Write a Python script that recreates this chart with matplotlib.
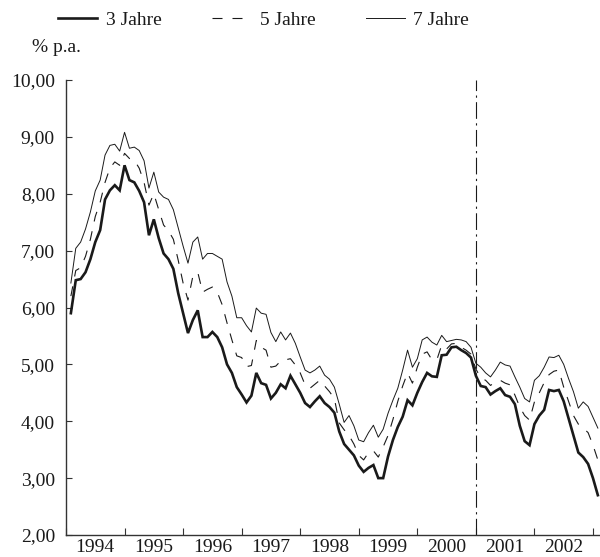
import numpy as np
import matplotlib
matplotlib.use("Agg")
import matplotlib.pyplot as plt
from matplotlib.ticker import FixedLocator, FuncFormatter

# Monthly yields (end of month), Jan 1994 - Jan 2003, % p.a.
start_year = 1994
y3 = [5.90, 6.48, 6.50, 6.62, 6.85, 7.15, 7.36, 7.90, 8.06, 8.15, 8.06, 8.50,
      8.24, 8.20, 8.05, 7.85, 7.27, 7.55, 7.22, 6.95, 6.85, 6.68, 6.25, 5.90,
      5.55, 5.78, 5.95, 5.48, 5.48, 5.57, 5.48, 5.30, 5.00, 4.85, 4.60, 4.47,
      4.33, 4.45, 4.85, 4.67, 4.64, 4.40, 4.50, 4.65, 4.58, 4.80, 4.65, 4.50,
      4.32, 4.25, 4.35, 4.44, 4.32, 4.25, 4.15, 3.82, 3.60, 3.50, 3.40, 3.22,
      3.11, 3.18, 3.23, 3.00, 3.00, 3.38, 3.67, 3.90, 4.08, 4.37, 4.28, 4.50,
      4.69, 4.85, 4.79, 4.78, 5.16, 5.17, 5.30, 5.31, 5.25, 5.20, 5.12, 4.80,
      4.62, 4.60, 4.47, 4.53, 4.58, 4.46, 4.43, 4.30, 3.92, 3.65, 3.58, 3.95,
      4.10, 4.20, 4.55, 4.53, 4.55, 4.35, 4.05, 3.75, 3.45, 3.37, 3.25, 3.00,
      2.70]
y5 = [6.20, 6.65, 6.70, 6.90, 7.20, 7.60, 7.85, 8.20, 8.45, 8.56, 8.50, 8.71,
      8.62, 8.59, 8.45, 8.20, 7.80, 8.00, 7.72, 7.45, 7.35, 7.20, 6.83, 6.43,
      6.13, 6.55, 6.62, 6.27, 6.32, 6.36, 6.27, 6.05, 5.73, 5.43, 5.15, 5.12,
      4.96, 4.98, 5.42, 5.30, 5.25, 4.95, 4.97, 5.06, 5.08, 5.10, 4.99, 4.85,
      4.64, 4.58, 4.65, 4.72, 4.62, 4.52, 4.40, 3.97, 3.85, 3.75, 3.60, 3.40,
      3.32, 3.45, 3.48, 3.37, 3.55, 3.75, 4.03, 4.35, 4.62, 4.85, 4.67, 4.95,
      5.18, 5.22, 5.08, 5.08, 5.34, 5.27, 5.36, 5.37, 5.30, 5.25, 5.18, 4.92,
      4.76, 4.72, 4.63, 4.69, 4.72, 4.67, 4.64, 4.46, 4.25, 4.10, 4.02, 4.34,
      4.50, 4.68, 4.82, 4.88, 4.90, 4.60, 4.35, 4.10, 3.95, 3.88, 3.80, 3.58,
      3.32]
y7 = [6.43, 7.04, 7.15, 7.38, 7.68, 8.05, 8.24, 8.68, 8.85, 8.87, 8.75, 9.08,
      8.80, 8.82, 8.76, 8.58, 8.10, 8.38, 8.03, 7.94, 7.90, 7.72, 7.40, 7.08,
      6.78, 7.15, 7.24, 6.85, 6.95, 6.95, 6.90, 6.85, 6.45, 6.20, 5.82, 5.82,
      5.68, 5.57, 5.99, 5.90, 5.88, 5.56, 5.40, 5.57, 5.43, 5.55, 5.37, 5.13,
      4.90, 4.85, 4.90, 4.97, 4.81, 4.74, 4.60, 4.30, 3.98, 4.10, 3.92, 3.67,
      3.64, 3.80, 3.93, 3.72, 3.86, 4.14, 4.37, 4.58, 4.90, 5.25, 4.95, 5.10,
      5.43, 5.48, 5.39, 5.34, 5.51, 5.40, 5.42, 5.44, 5.43, 5.40, 5.30, 5.02,
      4.95, 4.85, 4.78, 4.90, 5.04, 4.99, 4.97, 4.78, 4.60, 4.40, 4.34, 4.72,
      4.80, 4.95, 5.13, 5.12, 5.16, 5.00, 4.75, 4.52, 4.23, 4.34, 4.26, 4.07,
      3.88]
series_labels = ["3 Jahre", "5 Jahre", "7 Jahre"]
year_labels = ["1994", "1995", "1996", "1997", "1998", "1999", "2000", "2001", "2002"]
y_ticks = [2, 3, 4, 5, 6, 7, 8, 9, 10]
marker_year = 2001
y_unit = "% p.a."

n = len(y3)
x = start_year + (np.arange(n) + 1) / 12.0

plt.rcParams['font.family'] = ['Liberation Serif', 'DejaVu Serif']
ink = '#1a1a1a'

fig = plt.figure(figsize=(6.0, 5.57), dpi=100)
ax = fig.add_axes([66/600, 22/557, (600-66)/600, (535-80)/557])

l3, = ax.plot(x, y3, color=ink, lw=1.9, solid_joinstyle='miter', label=series_labels[0])
l5, = ax.plot(x, y5, color=ink, lw=0.8, linestyle=(0, (9, 9)), label=series_labels[1])
l7, = ax.plot(x, y7, color=ink, lw=0.7, label=series_labels[2])
ax.axvline(marker_year, color=ink, lw=0.8, linestyle=(0, (15, 4, 2, 4)))

ax.set_xlim(start_year, start_year + 9.12)
ax.set_ylim(y_ticks[0], y_ticks[-1])

years = np.arange(start_year, start_year + len(year_labels) + 1)
ax.xaxis.set_major_locator(FixedLocator(years))
ax.xaxis.set_major_formatter(FuncFormatter(lambda v, p: ""))
ax.xaxis.set_minor_locator(FixedLocator(years[:-1] + 0.5))
ax.set_xticklabels(year_labels, minor=True)
ax.tick_params(axis='x', which='major', direction='in', length=5, width=0.8, color='#333333')
ax.tick_params(axis='x', which='minor', length=0, pad=3, labelsize=14, labelcolor=ink)

ax.set_yticks(y_ticks)
ax.set_yticklabels([f"{v:.2f}".replace('.', ',') for v in y_ticks])
ax.tick_params(axis='y', direction='in', length=4, width=0.8, color='#333333', pad=8,
               labelsize=14, labelcolor=ink)

for s in ['top', 'right']:
    ax.spines[s].set_visible(False)
for s in ['left', 'bottom']:
    ax.spines[s].set_color('#333333')
    ax.spines[s].set_linewidth(1.0)

fig.text(32/600, 1 - 48/557, y_unit, fontsize=14, color=ink, va='center', ha='left')

fig.legend(handles=[l3, l5, l7], loc='center left', bbox_to_anchor=(58/600, 1 - 20/557),
           ncol=3, frameon=False, fontsize=14, handlelength=2.0, handletextpad=0.45,
           columnspacing=2.6, borderpad=0, borderaxespad=0, labelcolor=ink)

fig.savefig("out.png", dpi=100)
